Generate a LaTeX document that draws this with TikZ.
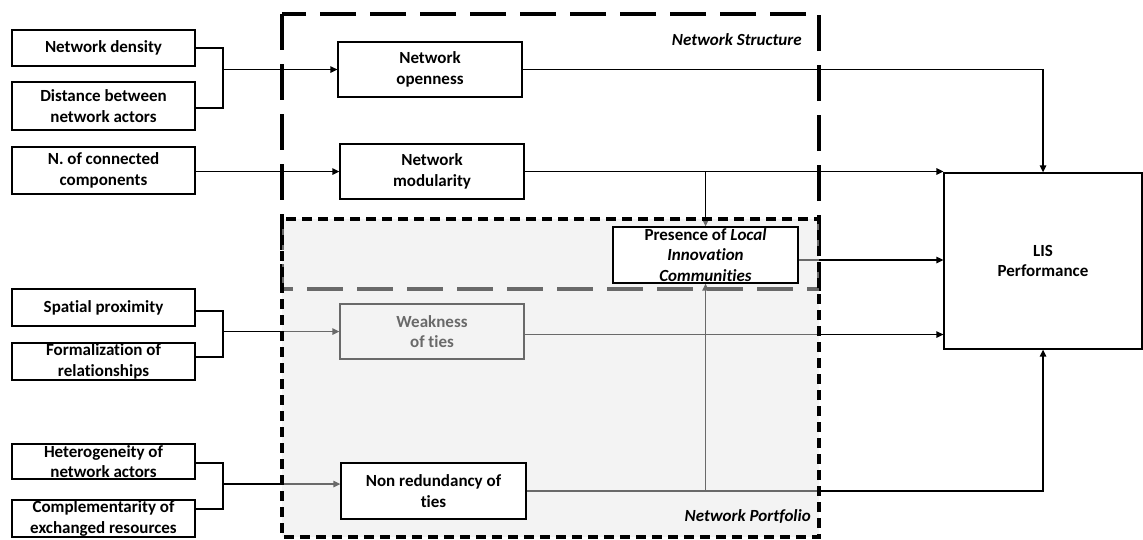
\documentclass[tikz,border=0pt]{standalone}
\usepackage{fontspec}
\setmainfont{Carlito}[Ligatures=NoCommon]
\usetikzlibrary{arrows.meta}
\pgfdeclarelayer{bg}
\pgfdeclarelayer{shade}
\pgfsetlayers{bg,shade,main}

\tikzset{
  lbl/.style={font=\bfseries\fontsize{17}{20.7}\selectfont},
  box/.style={draw, line width=1.3pt, inner sep=0pt, align=center, lbl},
  inbox/.style={box, fill=white},
  conn/.style={line width=1.35pt},
  arr/.style={conn, -{Triangle[length=7pt,width=6.5pt]}},
  groupline/.style={line width=3.5pt},
}

\begin{document}
\begin{tikzpicture}[x=1pt,y=-1pt]
\useasboundingbox (0,0) rectangle (1143,539);

% indicator boxes on the left
\node[box, minimum width=183, minimum height=36] (dens)  at (103.5,48)    {Network density};
\node[box, minimum width=183, minimum height=48] (dist)  at (103.5,106)   {Distance between\\network actors};
\node[box, minimum width=183, minimum height=47] (comp)  at (103.5,170.5) {N. of connected\\components};
\node[box, minimum width=183, minimum height=37] (spat)  at (103.5,307.5) {Spatial proximity};
\node[box, minimum width=183, minimum height=37] (form)  at (103.5,361.5) {Formalization of\\relationships};
\node[box, minimum width=183, minimum height=35] (het)   at (103.5,461.5) {Heterogeneity of\\network actors};
\node[box, minimum width=183, minimum height=37] (compl) at (103.5,518.5) {Complementarity of\\exchanged resources};

% network dimensions
\node[inbox, minimum width=184, minimum height=55] (open)   at (430,69.5)   {Network\\openness};
\node[inbox, minimum width=184, minimum height=55] (mod)    at (432,171.5)  {Network\\modularity};
\node[inbox, minimum width=185, minimum height=56] (pres)   at (705.5,255)  {Presence of \textit{Local}\\\textit{Innovation}\\\textit{Communities}};
\node[inbox, minimum width=185, minimum height=56] (nonred) at (433.5,491)  {Non redundancy of\\ties};
\node[inbox, minimum width=198, minimum height=176] (lis)   at (1043,261)   {LIS\\Performance};

% group titles
\node[lbl, font=\bfseries\itshape\fontsize{17}{20.7}\selectfont, anchor=east, inner sep=0pt] (tstruct) at (802,40)  {Network Structure};
\node[lbl, font=\bfseries\itshape\fontsize{17}{20.7}\selectfont, anchor=east, inner sep=0pt] (tport)   at (811,517) {Network Portfolio};

% junction column and connector ends
\coordinate (b1) at (223,0);
\coordinate (distout)  at ([yshift=-2pt]dist.east);
\coordinate (spatout)  at ([yshift=-3.5pt]spat.east);
\coordinate (formout)  at ([yshift=4.5pt]form.east);
\coordinate (hetout)   at ([yshift=-1.5pt]het.east);
\coordinate (complout) at ([yshift=9.5pt]compl.east);
\coordinate (nrin)     at ([yshift=7pt]nonred.west);
\coordinate (presout)  at ([yshift=-5pt]pres.east);

\begin{pgfonlayer}{bg}
  % network structure group
  \draw[groupline, dash pattern=on 36pt off 14pt] (282,14) rectangle (819,289);
  \node[box, minimum width=184, minimum height=55] (weak) at (432,331.5) {Weakness\\of ties};
  \coordinate (weakout) at ([yshift=-3pt]weak.east);

  % indicators into dimensions
  \draw[conn] (dens.east) -| (b1 |- distout) -- (distout);
  \draw[arr] (b1 |- open.west) -- (open.west);
  \draw[arr] (comp.east |- mod.west) -- (mod.west);
  \draw[conn] (spatout) -| (b1 |- formout) -- (formout);
  \draw[arr] (b1 |- weak.west) -- (weak.west);
  \draw[conn] (hetout) -| (b1 |- complout) -- (complout);
  \draw[arr] (b1 |- nrin) -- (nrin);

  % dimensions into performance
  \draw[arr] (open.east) -| (lis.north);
  \draw[arr] (mod.east) -- (mod.east -| lis.west);
  \draw[arr] (pres.north |- mod.east) -- (pres.north);
  \draw[arr] (presout) -- (presout -| lis.west);
  \draw[arr] (weakout) -- (weakout -| lis.west);
  \draw[arr] (nonred.east) -| (lis.south);
  \draw[arr] (pres.south |- nonred.east) -- (pres.south);
\end{pgfonlayer}

\begin{pgfonlayer}{shade}
  % network portfolio group
  \fill[black!10, opacity=0.46] (282,219) rectangle (819,537);
  \draw[groupline, dash pattern=on 10pt off 6pt] (282,219) rectangle (819,537);
\end{pgfonlayer}
\end{tikzpicture}
\end{document}
